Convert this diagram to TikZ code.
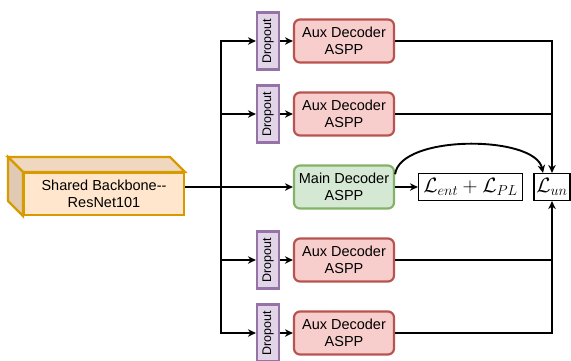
\documentclass[tikz,border=0pt]{standalone}
\usepackage{fontspec}
\setmainfont{Liberation Sans}
\usetikzlibrary{arrows.meta,calc}
\definecolor{bbfill}{HTML}{FFE6CC}
\definecolor{bbdraw}{HTML}{D79B00}
\definecolor{auxfill}{HTML}{F8CECC}
\definecolor{auxdraw}{HTML}{B85450}
\definecolor{mainfill}{HTML}{D5E8D4}
\definecolor{maindraw}{HTML}{82B366}
\definecolor{dofill}{HTML}{E1D5E7}
\definecolor{dodraw}{HTML}{9673A6}
\begin{document}
\begin{tikzpicture}[x=1pt,y=-1pt,
  dec/.style={rounded corners=6pt, line width=2.2pt, minimum width=100pt, minimum height=43pt, inner sep=0pt, align=center, font=\fontsize{14.5}{17.5}\selectfont},
  auxbox/.style={dec, draw=auxdraw, fill=auxfill},
  mainbox/.style={dec, draw=maindraw, fill=mainfill},
  dropbox/.style={draw=dodraw, fill=dofill, line width=2.2pt, minimum width=22pt, minimum height=57pt, inner sep=0pt, font=\fontsize{12.5}{14}\selectfont},
  lossbox/.style={draw, line width=1.2pt, inner sep=1pt, minimum height=27pt, font=\fontsize{22}{24}\selectfont},
  conn/.style={line width=1.9pt, -{Stealth[length=8pt,width=7.5pt]}},
  plain/.style={line width=1.9pt},
  cubeface/.style={draw=bbdraw, line width=2.2pt}
]
\useasboundingbox (0,0) rectangle (571,360);

% backbone cube
\filldraw[cubeface, fill=bbfill!94!black] (8,157) -- (170,157) -- (185,172) -- (23,172) -- cycle;
\filldraw[cubeface, fill=bbfill!88!black] (8,157) -- (23,172) -- (23,216) -- (8,201) -- cycle;
\node[draw=bbdraw, fill=bbfill, line width=2.2pt, minimum width=160pt, minimum height=42pt, inner sep=0pt, align=center, font=\fontsize{14.5}{17.5}\selectfont] (bb) at (104,194) {Shared Backbone-{}-\\ResNet101};

% dropouts
\node[dropbox] (d1) at (268,41) {\rotatebox{90}{Dropout}};
\node[dropbox] (d2) at (268,114) {\rotatebox{90}{Dropout}};
\node[dropbox] (d3) at (268,260) {\rotatebox{90}{Dropout}};
\node[dropbox] (d4) at (268,333) {\rotatebox{90}{Dropout}};

% decoders
\node[auxbox] (a1) at (344,41) {Aux Decoder\\ASPP};
\node[auxbox] (a2) at (344,114) {Aux Decoder\\ASPP};
\node[mainbox] (m) at (344,187) {Main Decoder\\ASPP};
\node[auxbox] (a3) at (344,260) {Aux Decoder\\ASPP};
\node[auxbox] (a4) at (344,333) {Aux Decoder\\ASPP};

% losses
\node[lossbox, minimum width=104pt] (lent) at (470.5,187) {$\mathcal{L}_{ent}+\mathcal{L}_{PL}$};
\node[lossbox, minimum width=36pt] (lun) at (552,187) {$\mathcal{L}_{un}$};

% trunk
\coordinate (bbo) at (bb.east |- m.west);
\coordinate (tr) at (221,187);
\draw[conn] (bbo) -- (m.west);
\draw[conn] (tr) |- (d1.west);
\draw[conn] (tr) |- (d4.west);
\draw[conn] (tr |- d2.west) -- (d2.west);
\draw[conn] (tr |- d3.west) -- (d3.west);

\draw[conn] (d1.east) -- (a1.west);
\draw[conn] (d2.east) -- (a2.west);
\draw[conn] (d3.east) -- (a3.west);
\draw[conn] (d4.east) -- (a4.west);

% outputs
\draw[conn] (m.east) -- (lent.west);
\draw[conn] (a1.east) -| (lun.north);
\draw[plain] (a2.east) -- (a2.east -| lun.north);
\draw[conn] (a4.east) -| (lun.south);
\draw[plain] (a3.east) -- (a3.east -| lun.south);
\draw[conn] (m.14) .. controls +(5,-40) and +(-8,-38) .. ($(lun.north)+(-9,0)$);
\end{tikzpicture}
\end{document}
